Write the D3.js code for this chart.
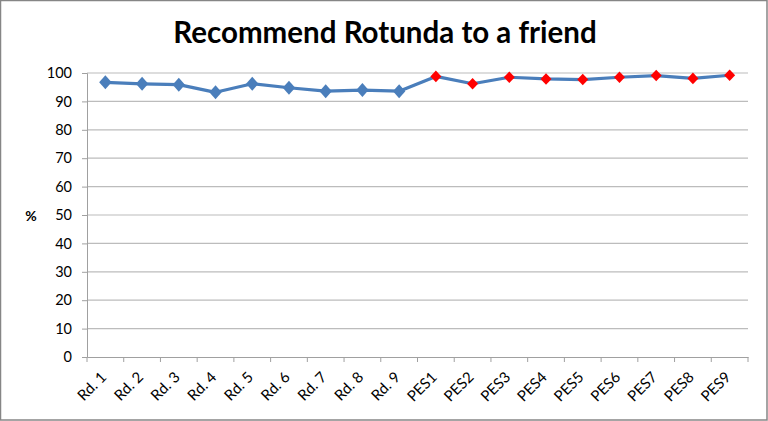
<!DOCTYPE html>
<html><head><meta charset="utf-8">
<script src="https://cdn.jsdelivr.net/npm/d3@7"></script>
<style>body{margin:0;background:#fff}svg{display:block}</style>
</head><body>
<svg id="c" width="768" height="421"></svg>
<script>
const categories = ["Rd. 1","Rd. 2","Rd. 3","Rd. 4","Rd. 5","Rd. 6","Rd. 7","Rd. 8","Rd. 9","PES1","PES2","PES3","PES4","PES5","PES6","PES7","PES8","PES9"];
const values = [96.7,96.2,95.9,93.2,96.2,94.8,93.6,94.0,93.6,98.8,96.2,98.5,97.9,97.7,98.5,99.1,98.1,99.2];
const yTicks = [0,10,20,30,40,50,60,70,80,90,100];
const title = "Recommend Rotunda to a friend";
const yLabel = "%";

const svg = d3.select("#c");
const W = 768, H = 421;
const m = {left:87, right:20, top:73, bottom:64};
const font = "Lato, 'Open Sans', sans-serif";

svg.append("rect").attr("x",0.5).attr("y",0.5).attr("width",W-1.5).attr("height",H-1.5)
  .attr("fill","#fff").attr("stroke","#868686").attr("stroke-width",1.5);

const x = d3.scaleBand().domain(categories).range([m.left, W-m.right]);
const y = d3.scaleLinear().domain([0,100]).range([H-m.bottom, m.top]);

svg.append("text").attr("x",385).attr("y",43).attr("text-anchor","middle")
  .attr("font-family",font).attr("font-weight","bold").attr("font-size",29.5).attr("fill","#000").text(title);

// grid
svg.append("g").selectAll("line").data(yTicks.filter(d=>d>0)).join("line")
  .attr("x1",m.left).attr("x2",W-m.right).attr("y1",d=>y(d)).attr("y2",d=>y(d))
  .attr("stroke","#bcbcbc").attr("stroke-width",1.2);

// y axis
const ya = svg.append("g").attr("transform",`translate(${m.left},0)`)
  .call(d3.axisLeft(y).tickValues(yTicks).tickSize(5).tickPadding(10));
ya.select(".domain").attr("stroke","#a0a0a0");
ya.selectAll(".tick line").attr("stroke","#a0a0a0");
ya.selectAll("text").attr("font-family",font).attr("font-size",14.5).attr("fill","#000");

// x axis
const xa = svg.append("g").attr("transform",`translate(0,${H-m.bottom})`)
  .call(d3.axisBottom(x).tickSize(0).tickPadding(0));
xa.select(".domain").attr("stroke","#a0a0a0");
xa.selectAll(".tick line").remove();
const bounds = categories.map(c=>x(c)).concat([x(categories[categories.length-1])+x.bandwidth()]);
xa.selectAll(".bt").data(bounds).join("line").attr("class","bt")
  .attr("x1",d=>d).attr("x2",d=>d).attr("y1",0).attr("y2",5).attr("stroke","#a0a0a0");
xa.selectAll(".tick text")
  .attr("font-family",font).attr("font-size",15).attr("fill","#000")
  .attr("text-anchor","end").attr("y",0).attr("dy",null)
  .attr("transform","translate(2,21) rotate(-45)");

svg.append("text").attr("x",31).attr("y",y(50)+6).attr("text-anchor","middle")
  .attr("font-family",font).attr("font-weight","bold").attr("font-size",14).text(yLabel);

const cx = d=>x(d)+x.bandwidth()/2;
svg.append("path").datum(categories)
  .attr("d",d3.line().x(c=>cx(c)).y((c,i)=>y(values[i])))
  .attr("fill","none").attr("stroke","#4a7ebb").attr("stroke-width",3.2).attr("stroke-linejoin","round");

const pts = categories.map((c,i)=>({c,v:values[i],pes:c.startsWith("PES")}));
svg.append("g").selectAll("path").data(pts).join("path")
  .attr("transform",d=>`translate(${cx(d.c)},${y(d.v)})`)
  .attr("d",d=>{const w=d.pes?5.5:6.2, h=d.pes?5.8:7;return `M0,${-h}L${w},0L0,${h}L${-w},0Z`;})
  .attr("fill",d=>d.pes?"#ff0000":"#4a7ebb");
</script>
</body></html>
